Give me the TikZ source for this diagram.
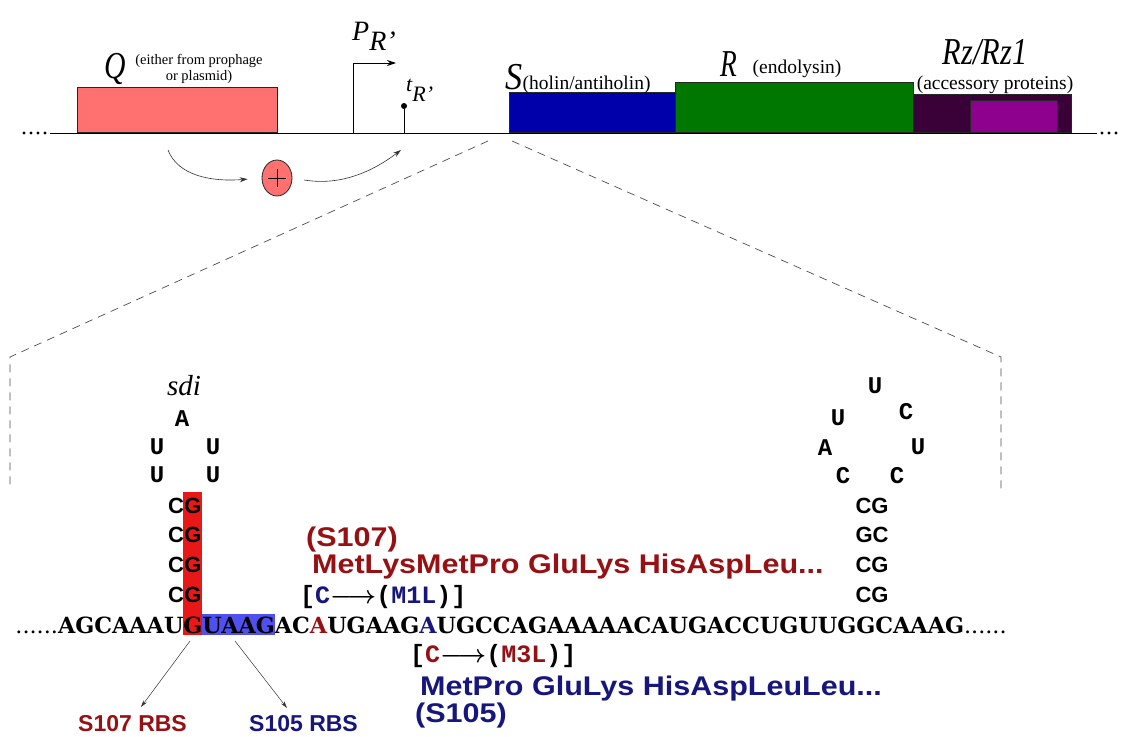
\documentclass[tikz,border=0pt]{standalone}
\usepackage{fontspec}
\setmainfont{Liberation Serif}
\newfontfamily\seqf{DejaVu Serif}
\newfontfamily\monof{Liberation Mono}
\newfontfamily\sansf{Liberation Sans}
\usetikzlibrary{arrows.meta,backgrounds,shapes.geometric}
\definecolor{dred}{RGB}{150,16,20}
\definecolor{navy}{RGB}{22,22,125}
\definecolor{qred}{RGB}{255,112,112}
\definecolor{sblue}{RGB}{0,0,170}
\definecolor{rgreen}{RGB}{0,120,0}
\definecolor{rzdark}{RGB}{58,0,56}
\definecolor{rzin}{RGB}{142,0,142}
\definecolor{barred}{RGB}{232,24,24}
\definecolor{barblue}{RGB}{80,80,240}
\newcommand\widen[1]{\scalebox{1.13}[1]{#1}}
\newcommand\mutarrow{{\boldmath$\longrightarrow$}}
\begin{document}
\begin{tikzpicture}[x=1pt,y=-1pt,
  gene/.style={draw=black!85, line width=0.8pt, inner sep=0pt, anchor=south west},
  biglab/.style={inner sep=0pt, anchor=base, font=\fontsize{38}{38}\selectfont\itshape},
  smalllab/.style={inner sep=0pt, anchor=base, font=\fontsize{19.5}{19.5}\selectfont},
  notelab/.style={inner sep=0pt, anchor=base, font=\fontsize{14.5}{14.5}\selectfont},
  zoomline/.style={dash pattern=on 8pt off 6pt, black!70, line width=0.7pt},
  thinarrow/.style={-{Stealth[length=8pt,width=5pt]}, line width=0.6pt, black!80},
  seq/.style={inner sep=0pt, outer sep=0pt, font=\seqf\bfseries\fontsize{22.3}{22.3}\selectfont},
  seqdots/.style={inner sep=0pt, outer sep=0pt, font=\seqf\fontsize{22.3}{22.3}\selectfont},
  hp/.style={inner sep=0pt, font=\monof\bfseries\fontsize{24}{24}\selectfont},
  stem/.style={inner sep=0pt, font=\sansf\bfseries\fontsize{22}{22}\selectfont},
  aa/.style={inner sep=0pt, anchor=west, font=\sansf\bfseries\fontsize{27}{27}\selectfont},
  mut/.style={inner sep=0pt, anchor=west, font=\monof\bfseries\fontsize{25}{25}\selectfont},
  rbs/.style={inner sep=0pt, anchor=west, font=\sansf\bfseries\fontsize{23}{23}\selectfont}]
\useasboundingbox (0,0) rectangle (1126,736);

% ---------- top: gene map ----------
\coordinate (ml) at (50,133);
\coordinate (mr) at (1097,133);
\draw[line width=1pt] (ml) -- (mr);
\foreach \x in {24,31,38,45} \fill (\x,133) circle (1.6pt);
\foreach \x in {1102,1109,1116} \fill (\x,133) circle (1.6pt);

\node[gene, fill=qred, minimum width=200pt, minimum height=45pt] (Q) at (77,133) {};
\node[gene, fill=sblue, minimum width=166pt, minimum height=40pt] (S) at (509,133) {};
\node[gene, fill=rgreen, minimum width=238pt, minimum height=50pt] (R) at (675,133) {};
\node[gene, fill=rzdark, minimum width=158pt, minimum height=38pt] (Rz) at (913,133) {};
\node[gene, fill=rzin, minimum width=87pt, minimum height=32pt] (Rzin) at (970,133) {};

\node[biglab] (Qlab) at (115,78) {\scalebox{0.78}[1]{Q}};
\node[notelab] (Qnote1) at (199,64) {(either from prophage};
\node[notelab] (Qnote2) at (199,80) {or plasmid)};
\node[biglab, anchor=base west] (Slab) at (505,89) {\scalebox{0.9}[1]{S}};
\node[smalllab, anchor=base west] (Snote) at (Slab.base east) {(holin/antiholin)};
\node[biglab] (Rlab) at (729,76) {\scalebox{0.72}[1]{R}};
\node[smalllab] (Rnote) at (797,73) {(endolysin)};
\node[biglab] (Rzlab) at (985,64) {\scalebox{0.8}[1]{Rz/Rz1}};
\node[smalllab] (Rznote) at (995,89) {(accessory proteins)};

% promoter and terminator
\coordinate (p0) at (353,133);
\coordinate (p1) at (353,63);
\coordinate (p2) at (396,63);
\draw[line width=1pt, -{Stealth[length=9pt,width=6pt]}] (p0) -- (p1) -- (p2);
\node[inner sep=0pt, anchor=base west, font=\fontsize{28}{28}\selectfont\itshape] (PR) at (352,40) {P\raisebox{-10pt}{R’}};
\coordinate (t0) at (404,133);
\node[circle, fill, inner sep=0pt, minimum size=6pt] (tdot) at (404,106) {};
\draw[line width=1pt] (t0) -- (tdot);
\node[inner sep=0pt, anchor=base west, font=\fontsize{22}{22}\selectfont\itshape] (tR) at (406,91) {t\raisebox{-10pt}{R’}};

% activation
\node[ellipse, draw=black!85, line width=0.8pt, fill=qred, minimum width=30pt, minimum height=36pt, inner sep=0pt] (plus) at (277,178) {};
\draw[line width=0.7pt] ([xshift=-9pt]plus.center) -- ([xshift=9pt]plus.center);
\draw[line width=0.7pt] ([yshift=-9pt]plus.center) -- ([yshift=9pt]plus.center);
\coordinate (a1) at (168,150);
\coordinate (a2) at (401,150);
\draw[thinarrow, shorten >=14pt] (a1) .. controls (178,176) and (212,182) .. (plus.west);
\draw[thinarrow, shorten <=12pt] (plus.east) .. controls (340,186) and (372,172) .. (a2);

% zoom lines
\coordinate (zl0) at (488,141);
\coordinate (zl1) at (10,357);
\coordinate (zl2) at (10,490);
\coordinate (zr0) at (512,141);
\coordinate (zr1) at (1001,357);
\coordinate (zr2) at (1001,490);
\draw[zoomline] (zl0) -- (zl1) -- (zl2);
\draw[zoomline] (zr0) -- (zr1) -- (zr2);

% ---------- bottom: sequence ----------
\node[seq, anchor=base west] (q1) at (58,633) {AGCAAAU};
\node[seqdots, anchor=base east] (qd1) at (q1.base west) {......};
\node[seq, anchor=base west] (q2) at (q1.base east) {G};
\node[seq, anchor=base west] (q3) at (q2.base east) {UAAG};
\node[seq, anchor=base west] (q4) at (q3.base east) {AC};
\node[seq, anchor=base west, text=dred] (q5) at (q4.base east) {A};
\node[seq, anchor=base west] (q6) at (q5.base east) {UGAAG};
\node[seq, anchor=base west, text=navy] (q7) at (q6.base east) {A};
\node[seq, anchor=base west] (q8) at (q7.base east) {UGCCAGAAAAACAUGACCUGUUGGCAAAG};
\node[seqdots, anchor=base west] (qd2) at (q8.base east) {......};

\begin{pgfonlayer}{background}
  \fill[barred] (q2.west |- 0,492) rectangle (q2.east |- 0,635);
  \fill[barblue] (q3.west |- 0,614) rectangle (q3.east |- 0,635);
\end{pgfonlayer}

% left hairpin (sdi)
\node[inner sep=0pt, font=\fontsize{29}{29}\selectfont\itshape] (sdi) at (184,386) {sdi};
\node[hp] (h1) at (182,419) {A};
\node[hp] (h2) at (157,447) {U};
\node[hp] (h3) at (213,447) {U};
\node[hp] (h4) at (157,475) {U};
\node[hp] (h5) at (213,475) {U};
\foreach \y/\n in {506/1,535/2,565/3,595/4}{
  \node[stem] (sg\n) at (q2 |- 0,\y) {G};
  \node[stem, anchor=east] (sc\n) at (sg\n.west) {C};
}

% right hairpin
\node[hp] (r1) at (875,386) {U};
\node[hp] (r2) at (838,418) {U};
\node[hp] (r3) at (906,412) {C};
\node[hp] (r4) at (825,448) {A};
\node[hp] (r5) at (918,447) {U};
\node[hp] (r6) at (843,476) {C};
\node[hp] (r7) at (897,476) {C};
\node[stem] (rs1) at (872,506) {CG};
\node[stem] (rs2) at (872,535) {GC};
\node[stem] (rs3) at (872,565) {CG};
\node[stem] (rs4) at (872,595) {CG};

% protein annotations
\node[aa, text=dred] (s107) at (306,540) {\widen{(S107)}};
\node[aa, text=dred] (aa107) at (312,567) {\widen{MetLysMetPro GluLys HisAspLeu...}};
\node[mut] (m1) at (300,597) {[\textcolor{navy}{C}\mutarrow(\textcolor{navy}{M1L})]};
\node[mut] (m3) at (410,656) {[\textcolor{dred}{C}\mutarrow(\textcolor{dred}{M3L})]};
\node[aa, text=navy] (aa105) at (420,689) {\widen{MetPro GluLys HisAspLeuLeu...}};
\node[aa, text=navy] (s105) at (415,716) {\widen{(S105)}};

% RBS
\node[rbs, text=dred] (rbs107) at (78,724) {S107 RBS};
\node[rbs, text=navy] (rbs105) at (249,724) {S105 RBS};
\coordinate (b1) at (190,641);
\coordinate (b2) at (235,641);
\coordinate (e1) at (141,707);
\coordinate (e2) at (287,708);
\draw[thinarrow, line width=0.5pt, -{Stealth[length=7pt,width=4pt]}] (b1) -- (e1);
\draw[thinarrow, line width=0.5pt, -{Stealth[length=7pt,width=4pt]}] (b2) -- (e2);
\end{tikzpicture}
\end{document}
